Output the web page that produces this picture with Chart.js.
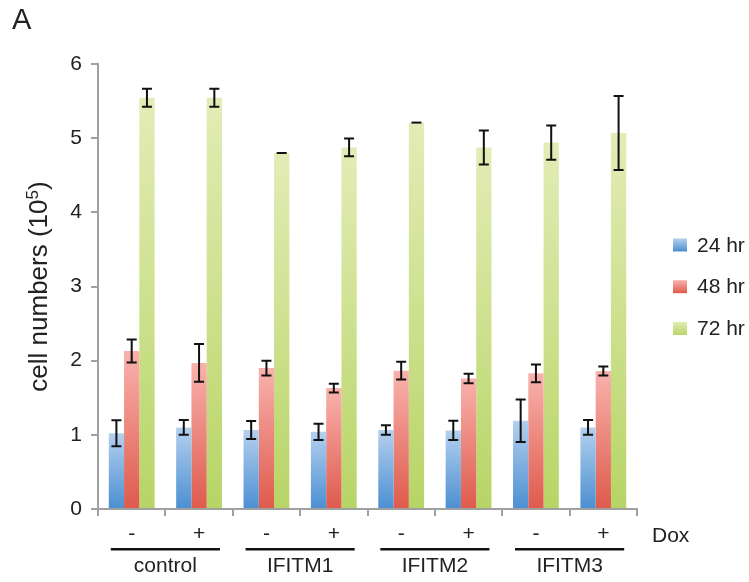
<!DOCTYPE html>
<html lang="en">
<head>
  <meta charset="UTF-8">
  <title>Cell numbers</title>
  <script src="https://cdn.jsdelivr.net/npm/chart.js"></script>
  <style>
    html, body { margin: 0; padding: 0; background: #fff; }
    #wrap { width: 749px; height: 582px; position: relative; }
  </style>
</head>
<body>
  <div id="wrap">
    <canvas id="cells"></canvas>
  </div>

  <script>
    // data
    const groups = ['control', 'IFITM1', 'IFITM2', 'IFITM3'];
    const doxLabels = ['-', '+', '-', '+', '-', '+', '-', '+'];
    const seriesNames = ['24 hr', '48 hr', '72 hr'];
    const hr24 = [1.02, 1.10, 1.065, 1.04, 1.065, 1.06, 1.19, 1.10];
    const hr24Err = [0.175, 0.10, 0.12, 0.11, 0.065, 0.13, 0.285, 0.10];
    const hr48 = [2.13, 1.97, 1.90, 1.63, 1.865, 1.76, 1.83, 1.86];
    const hr48Err = [0.155, 0.255, 0.10, 0.06, 0.12, 0.065, 0.12, 0.06];
    const hr72 = [5.545, 5.545, 4.80, 4.875, 5.21, 4.875, 4.94, 5.07];
    const hr72Err = [0.12, 0.12, 0, 0.12, 0, 0.23, 0.23, 0.5];

    const FONT = '"Liberation Sans", Arial, Helvetica, sans-serif';
    const colours = [
      { top: '#b4d0ee', bottom: '#4b8fd2' },
      { top: '#f9b2ad', bottom: '#de5a4c' },
      { top: '#e3ecb6', bottom: '#b7d566' }
    ];

    function barFill(idx) {
      return function (ctx) {
        const chart = ctx.chart;
        const c = colours[idx];
        if (!chart.chartArea || ctx.type !== 'data' || !chart.scales.y) return c.top;
        const y = chart.scales.y;
        const top = y.getPixelForValue(ctx.raw);
        const bottom = y.getPixelForValue(0);
        if (!isFinite(top) || bottom - top < 1) return c.top;
        const g = chart.ctx.createLinearGradient(0, top, 0, bottom);
        g.addColorStop(0, c.top);
        g.addColorStop(1, c.bottom);
        return g;
      };
    }

    const values = [hr24, hr48, hr72];
    const errors = [hr24Err, hr48Err, hr72Err];

    // error bars, group lines, legend, titles
    const extras = {
      id: 'extras',
      afterDatasetsDraw(chart) {
        const ctx = chart.ctx;
        const y = chart.scales.y;
        ctx.save();
        ctx.strokeStyle = '#111';
        ctx.lineWidth = 2;
        chart.data.datasets.forEach((ds, i) => {
          const meta = chart.getDatasetMeta(i);
          meta.data.forEach((bar, j) => {
            const v = values[i][j], e = errors[i][j];
            const yt = y.getPixelForValue(v + e);
            const yb = y.getPixelForValue(v - e);
            const x = bar.x;
            ctx.beginPath();
            if (e > 0) {
              ctx.moveTo(x, yt); ctx.lineTo(x, yb);
              ctx.moveTo(x - 5, yb); ctx.lineTo(x + 5, yb);
            }
            ctx.moveTo(x - 5, yt); ctx.lineTo(x + 5, yt);
            ctx.stroke();
          });
        });
        ctx.restore();
      },
      afterDraw(chart) {
        const ctx = chart.ctx;
        const xs = chart.scales.x;
        const area = chart.chartArea;
        const step = xs.getPixelForValue(1) - xs.getPixelForValue(0);
        ctx.save();

        // group bars and names
        groups.forEach((g, k) => {
          const mid = (xs.getPixelForValue(2 * k) + xs.getPixelForValue(2 * k + 1)) / 2;
          const half = step * 0.81;
          ctx.fillStyle = '#111';
          ctx.fillRect(mid - half, 548, half * 2, 2.5);
          ctx.fillStyle = '#222';
          ctx.font = '21px ' + FONT;
          ctx.textAlign = 'center';
          ctx.textBaseline = 'middle';
          ctx.fillText(g, mid, 566);
        });

        ctx.textAlign = 'left';
        ctx.fillText('Dox', 652, 536);

        // legend
        seriesNames.forEach((name, i) => {
          const cy = 245 + i * 41.7;
          const g = ctx.createLinearGradient(0, cy - 6.5, 0, cy + 6.5);
          g.addColorStop(0, colours[i].top);
          g.addColorStop(1, colours[i].bottom);
          ctx.fillStyle = g;
          ctx.fillRect(673, cy - 6.5, 14, 13);
          ctx.fillStyle = '#222';
          ctx.font = '21px ' + FONT;
          ctx.textBaseline = 'middle';
          ctx.fillText(name, 697, cy + 1);
        });

        // panel letter
        ctx.font = '29px ' + FONT;
        ctx.fillStyle = '#222';
        ctx.textBaseline = 'middle';
        ctx.fillText('A', 12, 21);

        // y axis title with superscript
        ctx.translate(40, (area.top + area.bottom) / 2);
        ctx.rotate(-Math.PI / 2);
        const big = '26px ' + FONT;
        const small = '17px ' + FONT;
        const a = 'cell numbers (10', b = '5', c = ')';
        ctx.font = big;
        const wa = ctx.measureText(a).width;
        const wc = ctx.measureText(c).width;
        ctx.font = small;
        const wb = ctx.measureText(b).width;
        const x0 = -(wa + wb + wc) / 2;
        ctx.textAlign = 'left';
        ctx.textBaseline = 'middle';
        ctx.font = big;
        ctx.fillText(a, x0, 0);
        ctx.font = small;
        ctx.fillText(b, x0 + wa, -7);
        ctx.font = big;
        ctx.fillText(c, x0 + wa + wb, 0);
        ctx.restore();
      }
    };

    const chart = new Chart(document.getElementById('cells'), {
      type: 'bar',
      data: {
        labels: doxLabels,
        datasets: seriesNames.map((name, i) => ({
          label: name,
          data: values[i],
          backgroundColor: barFill(i),
          borderWidth: 0,
          categoryPercentage: 0.68,
          barPercentage: 1
        }))
      },
      options: {
        responsive: true,
        maintainAspectRatio: false,
        animation: false,
        layout: { padding: { top: 64, right: 112, left: 0, bottom: 0 } },
        plugins: {
          legend: { display: false },
          tooltip: { enabled: false }
        },
        scales: {
          x: {
            afterFit(scale) { scale.height = 73; },
            grid: {
              offset: true,
              drawOnChartArea: false,
              drawTicks: true,
              tickLength: 7,
              color: '#a0a0a0',
              lineWidth: 2
            },
            border: { color: '#a0a0a0', width: 2 },
            ticks: {
              color: '#222',
              font: { family: FONT, size: 21 },
              padding: 6,
              maxRotation: 0
            }
          },
          y: {
            min: 0,
            max: 6,
            afterFit(scale) { scale.width = 98; },
            grid: {
              drawOnChartArea: false,
              drawTicks: true,
              tickLength: 7,
              color: '#a0a0a0',
              lineWidth: 2
            },
            border: { color: '#a0a0a0', width: 2 },
            ticks: {
              stepSize: 1,
              color: '#222',
              font: { family: FONT, size: 21 },
              padding: 9
            }
          }
        }
      },
      plugins: [extras]
    });
  </script>
</body>
</html>
